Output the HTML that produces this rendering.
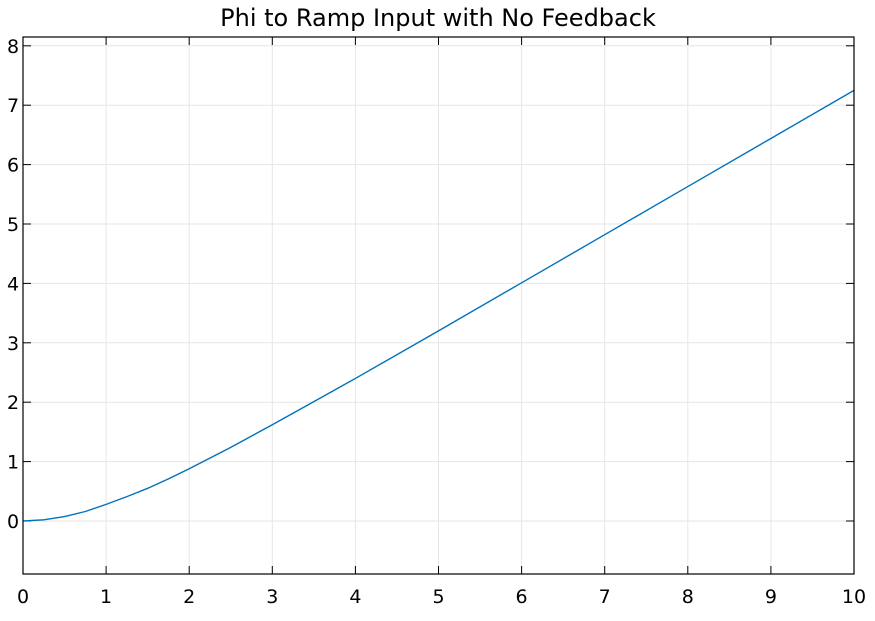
<!DOCTYPE html>
<html><head><meta charset="utf-8"><style>
body{margin:0;background:#fff;}
svg text{font-family:"DejaVu Sans","Liberation Sans",sans-serif;fill:#000;}
</style></head><body>
<svg width="875" height="616">
<g id="grid"></g>
<g id="ticks"></g>
<path id="line" fill="none" stroke="#0072bd" stroke-width="1.4"/>
<rect x="23" y="37" width="831" height="537" fill="none" stroke="#000" stroke-width="1.2"/>
<text x="438" y="26" font-size="24" text-anchor="middle">Phi to Ramp Input with No Feedback</text>
</svg>
<script>
const xTicks=[0,1,2,3,4,5,6,7,8,9,10];
const yTicks=[0,1,2,3,4,5,6,7,8];
const tVals=[0,0.25,0.5,0.75,1,1.25,1.5,1.75,2,2.5,3,3.5,4,5,6,7,8,9,10];
const phiVals=[0,0.02,0.075,0.16,0.28,0.41,0.55,0.71,0.88,1.24,1.62,2.01,2.40,3.20,4.01,4.82,5.63,6.44,7.25];
const L=23,R=854,T=37,B=574;
const X=v=>L+(v-0)/(10-0)*(R-L);
const Y=v=>521-v*59.4;
const ns='http://www.w3.org/2000/svg';
const grid=document.getElementById('grid'),ticks=document.getElementById('ticks');
function mk(tag,attrs,parent){const e=document.createElementNS(ns,tag);for(const k in attrs)e.setAttribute(k,attrs[k]);parent.appendChild(e);return e;}
xTicks.forEach(v=>{const x=X(v);
 const g=mk('line',{x1:x,x2:x,y1:T,y2:B,stroke:'#e6e6e6','stroke-width':1},grid);
 
 
 mk('line',{x1:x,x2:x,y1:B,y2:B-8,stroke:'#000'},ticks);
 mk('line',{x1:x,x2:x,y1:T,y2:T+8,stroke:'#000'},ticks);
 const t=mk('text',{x:x,y:603,'font-size':19,'text-anchor':'middle'},ticks);t.textContent=v;
 
 
});
yTicks.forEach(v=>{const y=Y(v);
 const g=mk('line',{x1:L,x2:R,y1:y,y2:y,stroke:'#e6e6e6','stroke-width':1},grid);
 
 
 mk('line',{x1:L,x2:L+8,y1:y,y2:y,stroke:'#000'},ticks);
 mk('line',{x1:R,x2:R-8,y1:y,y2:y,stroke:'#000'},ticks);
 const t=mk('text',{x:13,y:y+7,'font-size':19,'text-anchor':'middle'},ticks);t.textContent=v;
 
 
});
document.getElementById('line').setAttribute('d',tVals.map((t,i)=>(i?'L':'M')+X(t)+','+Y(phiVals[i])).join(''));
</script>
</body></html>
